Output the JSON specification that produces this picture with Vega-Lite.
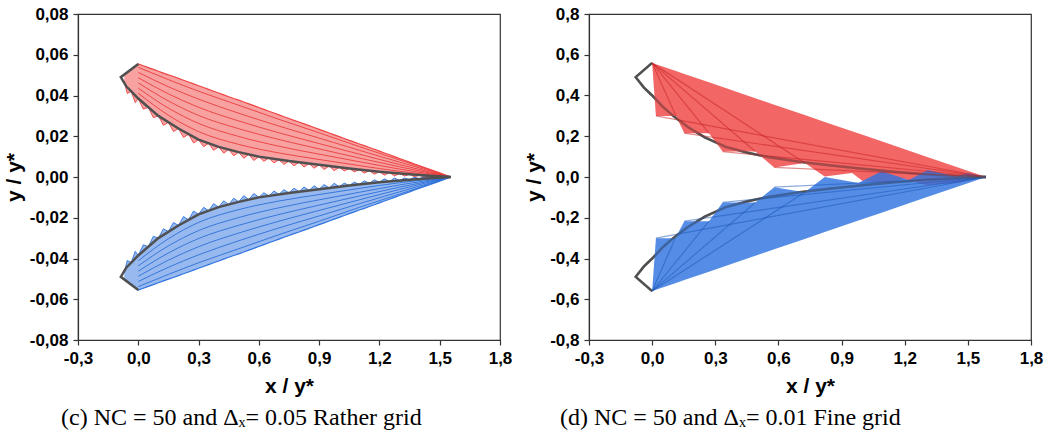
{
  "$schema": "https://vega.github.io/schema/vega-lite/v6.json",
  "background": "white",
  "padding": {"left": 2, "top": 4, "right": 5, "bottom": 0},
  "spacing": 10,
  "config": {
    "view": {"stroke": "#333", "strokeWidth": 1.2},
    "axis": {"labelFont": "Liberation Sans", "labelFontWeight": "bold", "labelFontSize": 17, "labelColor": "#000", "titleFont": "Liberation Sans", "titleFontWeight": "bold", "titleFontSize": 21, "titleColor": "#000", "grid": false, "domainColor": "#333", "tickColor": "#333", "domainWidth": 1.2, "tickWidth": 1.2, "labelOverlap": false, "labelFlush": false},
    "title": {"font": "Liberation Serif", "fontSize": 24, "fontWeight": "normal", "color": "#000"}
  },
  "datasets": {
    "c": [
      {"x": -0.07, "rt": 0.0503, "rb": 0.0470, "bt": -0.0470, "bb": -0.0503},
      {"x": -0.055, "rt": 0.0514, "rb": 0.0410, "bt": -0.0410, "bb": -0.0514},
      {"x": -0.035, "rt": 0.0529, "rb": 0.0420, "bt": -0.0420, "bb": -0.0529},
      {"x": -0.015, "rt": 0.0544, "rb": 0.0365, "bt": -0.0365, "bb": -0.0544},
      {"x": 0.0, "rt": 0.0555, "rb": 0.0385, "bt": -0.0385, "bb": -0.0555},
      {"x": 0.025, "rt": 0.0546, "rb": 0.0333, "bt": -0.0333, "bb": -0.0546},
      {"x": 0.05, "rt": 0.0537, "rb": 0.0342, "bt": -0.0342, "bb": -0.0537},
      {"x": 0.075, "rt": 0.0528, "rb": 0.0291, "bt": -0.0291, "bb": -0.0528},
      {"x": 0.1, "rt": 0.0519, "rb": 0.0300, "bt": -0.0300, "bb": -0.0519},
      {"x": 0.125, "rt": 0.0510, "rb": 0.0254, "bt": -0.0254, "bb": -0.0510},
      {"x": 0.15, "rt": 0.0501, "rb": 0.0268, "bt": -0.0268, "bb": -0.0501},
      {"x": 0.175, "rt": 0.0493, "rb": 0.0223, "bt": -0.0223, "bb": -0.0493},
      {"x": 0.2, "rt": 0.0484, "rb": 0.0238, "bt": -0.0238, "bb": -0.0484},
      {"x": 0.225, "rt": 0.0475, "rb": 0.0194, "bt": -0.0194, "bb": -0.0475},
      {"x": 0.25, "rt": 0.0466, "rb": 0.0210, "bt": -0.0210, "bb": -0.0466},
      {"x": 0.275, "rt": 0.0457, "rb": 0.0167, "bt": -0.0167, "bb": -0.0457},
      {"x": 0.3, "rt": 0.0448, "rb": 0.0183, "bt": -0.0183, "bb": -0.0448},
      {"x": 0.325, "rt": 0.0439, "rb": 0.0149, "bt": -0.0149, "bb": -0.0439},
      {"x": 0.35, "rt": 0.0430, "rb": 0.0165, "bt": -0.0165, "bb": -0.0430},
      {"x": 0.375, "rt": 0.0421, "rb": 0.0131, "bt": -0.0131, "bb": -0.0421},
      {"x": 0.4, "rt": 0.0412, "rb": 0.0148, "bt": -0.0148, "bb": -0.0412},
      {"x": 0.425, "rt": 0.0403, "rb": 0.0117, "bt": -0.0117, "bb": -0.0403},
      {"x": 0.45, "rt": 0.0394, "rb": 0.0135, "bt": -0.0135, "bb": -0.0394},
      {"x": 0.475, "rt": 0.0385, "rb": 0.0104, "bt": -0.0104, "bb": -0.0385},
      {"x": 0.5, "rt": 0.0377, "rb": 0.0122, "bt": -0.0122, "bb": -0.0377},
      {"x": 0.525, "rt": 0.0368, "rb": 0.0092, "bt": -0.0092, "bb": -0.0368},
      {"x": 0.55, "rt": 0.0359, "rb": 0.0111, "bt": -0.0111, "bb": -0.0359},
      {"x": 0.575, "rt": 0.0350, "rb": 0.0081, "bt": -0.0081, "bb": -0.0350},
      {"x": 0.6, "rt": 0.0341, "rb": 0.0100, "bt": -0.0100, "bb": -0.0341},
      {"x": 0.625, "rt": 0.0332, "rb": 0.0077, "bt": -0.0077, "bb": -0.0332},
      {"x": 0.65, "rt": 0.0323, "rb": 0.0093, "bt": -0.0093, "bb": -0.0323},
      {"x": 0.675, "rt": 0.0314, "rb": 0.0069, "bt": -0.0069, "bb": -0.0314},
      {"x": 0.7, "rt": 0.0305, "rb": 0.0085, "bt": -0.0085, "bb": -0.0305},
      {"x": 0.725, "rt": 0.0296, "rb": 0.0062, "bt": -0.0062, "bb": -0.0296},
      {"x": 0.75, "rt": 0.0287, "rb": 0.0078, "bt": -0.0078, "bb": -0.0287},
      {"x": 0.775, "rt": 0.0278, "rb": 0.0055, "bt": -0.0055, "bb": -0.0278},
      {"x": 0.8, "rt": 0.0270, "rb": 0.0072, "bt": -0.0072, "bb": -0.0270},
      {"x": 0.825, "rt": 0.0261, "rb": 0.0049, "bt": -0.0049, "bb": -0.0261},
      {"x": 0.85, "rt": 0.0252, "rb": 0.0066, "bt": -0.0066, "bb": -0.0252},
      {"x": 0.875, "rt": 0.0243, "rb": 0.0043, "bt": -0.0043, "bb": -0.0243},
      {"x": 0.9, "rt": 0.0234, "rb": 0.0060, "bt": -0.0060, "bb": -0.0234},
      {"x": 0.925, "rt": 0.0225, "rb": 0.0037, "bt": -0.0037, "bb": -0.0225},
      {"x": 0.95, "rt": 0.0216, "rb": 0.0054, "bt": -0.0054, "bb": -0.0216},
      {"x": 0.975, "rt": 0.0207, "rb": 0.0031, "bt": -0.0031, "bb": -0.0207},
      {"x": 1.0, "rt": 0.0198, "rb": 0.0048, "bt": -0.0048, "bb": -0.0198},
      {"x": 1.025, "rt": 0.0189, "rb": 0.0030, "bt": -0.0030, "bb": -0.0189},
      {"x": 1.05, "rt": 0.0180, "rb": 0.0042, "bt": -0.0042, "bb": -0.0180},
      {"x": 1.075, "rt": 0.0171, "rb": 0.0025, "bt": -0.0025, "bb": -0.0171},
      {"x": 1.1, "rt": 0.0162, "rb": 0.0037, "bt": -0.0037, "bb": -0.0162},
      {"x": 1.125, "rt": 0.0154, "rb": 0.0019, "bt": -0.0019, "bb": -0.0154},
      {"x": 1.15, "rt": 0.0145, "rb": 0.0031, "bt": -0.0031, "bb": -0.0145},
      {"x": 1.175, "rt": 0.0136, "rb": 0.0014, "bt": -0.0014, "bb": -0.0136},
      {"x": 1.2, "rt": 0.0127, "rb": 0.0026, "bt": -0.0026, "bb": -0.0127},
      {"x": 1.225, "rt": 0.0118, "rb": 0.0009, "bt": -0.0009, "bb": -0.0118},
      {"x": 1.25, "rt": 0.0109, "rb": 0.0022, "bt": -0.0022, "bb": -0.0109},
      {"x": 1.275, "rt": 0.0100, "rb": 0.0005, "bt": -0.0005, "bb": -0.0100},
      {"x": 1.3, "rt": 0.0091, "rb": 0.0017, "bt": -0.0017, "bb": -0.0091},
      {"x": 1.325, "rt": 0.0082, "rb": 0.0005, "bt": -0.0005, "bb": -0.0082},
      {"x": 1.35, "rt": 0.0073, "rb": 0.0013, "bt": -0.0013, "bb": -0.0073},
      {"x": 1.375, "rt": 0.0064, "rb": 0.0001, "bt": -0.0001, "bb": -0.0064},
      {"x": 1.4, "rt": 0.0055, "rb": 0.0009, "bt": -0.0009, "bb": -0.0055},
      {"x": 1.425, "rt": 0.0046, "rb": -0.0003, "bt": 0.0003, "bb": -0.0046},
      {"x": 1.45, "rt": 0.0038, "rb": 0.0006, "bt": -0.0006, "bb": -0.0038},
      {"x": 1.475, "rt": 0.0029, "rb": -0.0005, "bt": 0.0005, "bb": -0.0029},
      {"x": 1.5, "rt": 0.0020, "rb": 0.0003, "bt": -0.0003, "bb": -0.0020},
      {"x": 1.525, "rt": 0.0011, "rb": -0.0005, "bt": 0.0005, "bb": -0.0011},
      {"x": 1.555, "rt": 0.0, "rb": 0.0, "bt": 0.0, "bb": 0.0}
    ],
    "cArc": [
      {"k": 1, "x": 0.0, "ry": 0.0411, "by": -0.0411}, {"k": 1, "x": 0.15, "ry": 0.0303, "by": -0.0303}, {"k": 1, "x": 0.3, "ry": 0.0223, "by": -0.0223}, {"k": 1, "x": 0.5, "ry": 0.0160, "by": -0.0160}, {"k": 1, "x": 0.7, "ry": 0.0118, "by": -0.0118}, {"k": 1, "x": 0.9, "ry": 0.0086, "by": -0.0086}, {"k": 1, "x": 1.1, "ry": 0.0056, "by": -0.0056}, {"k": 1, "x": 1.3, "ry": 0.0028, "by": -0.0028}, {"k": 1, "x": 1.555, "ry": 0.0, "by": 0.0},
      {"k": 2, "x": 0.0, "ry": 0.0436, "by": -0.0436}, {"k": 2, "x": 0.15, "ry": 0.0338, "by": -0.0338}, {"k": 2, "x": 0.3, "ry": 0.0263, "by": -0.0263}, {"k": 2, "x": 0.5, "ry": 0.0199, "by": -0.0199}, {"k": 2, "x": 0.7, "ry": 0.0151, "by": -0.0151}, {"k": 2, "x": 0.9, "ry": 0.0112, "by": -0.0112}, {"k": 2, "x": 1.1, "ry": 0.0075, "by": -0.0075}, {"k": 2, "x": 1.3, "ry": 0.0039, "by": -0.0039}, {"k": 2, "x": 1.555, "ry": 0.0, "by": 0.0},
      {"k": 3, "x": 0.0, "ry": 0.0462, "by": -0.0462}, {"k": 3, "x": 0.15, "ry": 0.0373, "by": -0.0373}, {"k": 3, "x": 0.3, "ry": 0.0302, "by": -0.0302}, {"k": 3, "x": 0.5, "ry": 0.0237, "by": -0.0237}, {"k": 3, "x": 0.7, "ry": 0.0184, "by": -0.0184}, {"k": 3, "x": 0.9, "ry": 0.0138, "by": -0.0138}, {"k": 3, "x": 1.1, "ry": 0.0093, "by": -0.0093}, {"k": 3, "x": 1.3, "ry": 0.0050, "by": -0.0050}, {"k": 3, "x": 1.555, "ry": 0.0, "by": 0.0},
      {"k": 4, "x": 0.0, "ry": 0.0487, "by": -0.0487}, {"k": 4, "x": 0.15, "ry": 0.0408, "by": -0.0408}, {"k": 4, "x": 0.3, "ry": 0.0342, "by": -0.0342}, {"k": 4, "x": 0.5, "ry": 0.0275, "by": -0.0275}, {"k": 4, "x": 0.7, "ry": 0.0217, "by": -0.0217}, {"k": 4, "x": 0.9, "ry": 0.0164, "by": -0.0164}, {"k": 4, "x": 1.1, "ry": 0.0112, "by": -0.0112}, {"k": 4, "x": 1.3, "ry": 0.0061, "by": -0.0061}, {"k": 4, "x": 1.555, "ry": 0.0, "by": 0.0},
      {"k": 5, "x": 0.0, "ry": 0.0513, "by": -0.0513}, {"k": 5, "x": 0.15, "ry": 0.0443, "by": -0.0443}, {"k": 5, "x": 0.3, "ry": 0.0382, "by": -0.0382}, {"k": 5, "x": 0.5, "ry": 0.0313, "by": -0.0313}, {"k": 5, "x": 0.7, "ry": 0.0250, "by": -0.0250}, {"k": 5, "x": 0.9, "ry": 0.0191, "by": -0.0191}, {"k": 5, "x": 1.1, "ry": 0.0131, "by": -0.0131}, {"k": 5, "x": 1.3, "ry": 0.0073, "by": -0.0073}, {"k": 5, "x": 1.555, "ry": 0.0, "by": 0.0},
      {"k": 6, "x": 0.0, "ry": 0.0538, "by": -0.0538}, {"k": 6, "x": 0.15, "ry": 0.0478, "by": -0.0478}, {"k": 6, "x": 0.3, "ry": 0.0421, "by": -0.0421}, {"k": 6, "x": 0.5, "ry": 0.0352, "by": -0.0352}, {"k": 6, "x": 0.7, "ry": 0.0283, "by": -0.0283}, {"k": 6, "x": 0.9, "ry": 0.0217, "by": -0.0217}, {"k": 6, "x": 1.1, "ry": 0.0149, "by": -0.0149}, {"k": 6, "x": 1.3, "ry": 0.0084, "by": -0.0084}, {"k": 6, "x": 1.555, "ry": 0.0, "by": 0.0}
    ],
    "cGray": [
      {"s": "r", "i": 0, "x": 0.0, "y": 0.0555}, {"s": "r", "i": 1, "x": -0.087, "y": 0.049},
      {"s": "r", "i": 2, "x": -0.06, "y": 0.0445}, {"s": "r", "i": 3, "x": -0.03, "y": 0.0415},
      {"s": "r", "i": 4, "x": 0.0, "y": 0.0385}, {"s": "r", "i": 5, "x": 0.1, "y": 0.0300},
      {"s": "r", "i": 6, "x": 0.2, "y": 0.0238}, {"s": "r", "i": 7, "x": 0.3, "y": 0.0183},
      {"s": "r", "i": 8, "x": 0.4, "y": 0.0148}, {"s": "r", "i": 9, "x": 0.5, "y": 0.0122},
      {"s": "r", "i": 10, "x": 0.6, "y": 0.0100}, {"s": "r", "i": 11, "x": 0.75, "y": 0.0078},
      {"s": "r", "i": 12, "x": 0.9, "y": 0.0060}, {"s": "r", "i": 13, "x": 1.05, "y": 0.0042},
      {"s": "r", "i": 14, "x": 1.2, "y": 0.0026}, {"s": "r", "i": 15, "x": 1.35, "y": 0.0013},
      {"s": "r", "i": 16, "x": 1.45, "y": 0.0006}, {"s": "r", "i": 17, "x": 1.555, "y": 0.0},
      {"s": "b", "i": 0, "x": 0.0, "y": -0.0555}, {"s": "b", "i": 1, "x": -0.087, "y": -0.049},
      {"s": "b", "i": 2, "x": -0.06, "y": -0.0445}, {"s": "b", "i": 3, "x": -0.03, "y": -0.0415},
      {"s": "b", "i": 4, "x": 0.0, "y": -0.0385}, {"s": "b", "i": 5, "x": 0.1, "y": -0.0300},
      {"s": "b", "i": 6, "x": 0.2, "y": -0.0238}, {"s": "b", "i": 7, "x": 0.3, "y": -0.0183},
      {"s": "b", "i": 8, "x": 0.4, "y": -0.0148}, {"s": "b", "i": 9, "x": 0.5, "y": -0.0122},
      {"s": "b", "i": 10, "x": 0.6, "y": -0.0100}, {"s": "b", "i": 11, "x": 0.75, "y": -0.0078},
      {"s": "b", "i": 12, "x": 0.9, "y": -0.0060}, {"s": "b", "i": 13, "x": 1.05, "y": -0.0042},
      {"s": "b", "i": 14, "x": 1.2, "y": -0.0026}, {"s": "b", "i": 15, "x": 1.35, "y": -0.0013},
      {"s": "b", "i": 16, "x": 1.45, "y": -0.0006}, {"s": "b", "i": 17, "x": 1.555, "y": 0.0}
    ],
    "dRed": [
      {"x": 0.0, "t": 0.56, "b": 0.56},
      {"x": 0.018, "t": 0.5536, "b": 0.30},
      {"x": 0.113, "t": 0.520, "b": 0.30},
      {"x": 0.153, "t": 0.506, "b": 0.215},
      {"x": 0.27, "t": 0.4647, "b": 0.215},
      {"x": 0.335, "t": 0.4417, "b": 0.125},
      {"x": 0.49, "t": 0.387, "b": 0.125},
      {"x": 0.58, "t": 0.3552, "b": 0.047},
      {"x": 0.725, "t": 0.304, "b": 0.069},
      {"x": 0.82, "t": 0.2705, "b": 0.003},
      {"x": 0.95, "t": 0.2246, "b": 0.02},
      {"x": 1.0, "t": 0.2069, "b": -0.02},
      {"x": 1.1, "t": 0.1716, "b": -0.03},
      {"x": 1.2, "t": 0.1363, "b": -0.01},
      {"x": 1.3, "t": 0.101, "b": -0.04},
      {"x": 1.45, "t": 0.048, "b": -0.03},
      {"x": 1.586, "t": 0.0, "b": 0.0}
    ],
    "dBlue": [
      {"x": 0.0, "t": -0.56, "b": -0.56},
      {"x": 0.018, "t": -0.30, "b": -0.5536},
      {"x": 0.11, "t": -0.30, "b": -0.5212},
      {"x": 0.153, "t": -0.217, "b": -0.506},
      {"x": 0.27, "t": -0.217, "b": -0.4647},
      {"x": 0.335, "t": -0.125, "b": -0.4417},
      {"x": 0.49, "t": -0.125, "b": -0.387},
      {"x": 0.58, "t": -0.05, "b": -0.3552},
      {"x": 0.725, "t": -0.075, "b": -0.304},
      {"x": 0.82, "t": 0.0, "b": -0.2705},
      {"x": 0.98, "t": -0.03, "b": -0.214},
      {"x": 1.09, "t": 0.028, "b": -0.1751},
      {"x": 1.22, "t": -0.015, "b": -0.1292},
      {"x": 1.31, "t": 0.034, "b": -0.0974},
      {"x": 1.44, "t": 0.003, "b": -0.0515},
      {"x": 1.5, "t": 0.02, "b": -0.0304},
      {"x": 1.586, "t": 0.0, "b": 0.0}
    ],
    "dFan": [
      {"id": "r1", "c": "r", "x": 0.0, "y": 0.56}, {"id": "r1", "c": "r", "x": 0.113, "y": 0.30},
      {"id": "r2", "c": "r", "x": 0.0, "y": 0.56}, {"id": "r2", "c": "r", "x": 0.27, "y": 0.215},
      {"id": "r3", "c": "r", "x": 0.0, "y": 0.56}, {"id": "r3", "c": "r", "x": 0.49, "y": 0.125},
      {"id": "r4", "c": "r", "x": 0.0, "y": 0.56}, {"id": "r4", "c": "r", "x": 0.725, "y": 0.069},
      {"id": "r5", "c": "r", "x": 0.153, "y": 0.215}, {"id": "r5", "c": "r", "x": 1.586, "y": 0.0},
      {"id": "r6", "c": "r", "x": 0.335, "y": 0.125}, {"id": "r6", "c": "r", "x": 1.586, "y": 0.0},
      {"id": "r7", "c": "r", "x": 0.018, "y": 0.30}, {"id": "r7", "c": "r", "x": 1.586, "y": 0.0},
      {"id": "r8", "c": "r", "x": 0.58, "y": 0.047}, {"id": "r8", "c": "r", "x": 1.586, "y": 0.0},
      {"id": "b1", "c": "b", "x": 0.0, "y": -0.56}, {"id": "b1", "c": "b", "x": 0.11, "y": -0.30},
      {"id": "b2", "c": "b", "x": 0.0, "y": -0.56}, {"id": "b2", "c": "b", "x": 0.27, "y": -0.217},
      {"id": "b3", "c": "b", "x": 0.0, "y": -0.56}, {"id": "b3", "c": "b", "x": 0.49, "y": -0.125},
      {"id": "b4", "c": "b", "x": 0.0, "y": -0.56}, {"id": "b4", "c": "b", "x": 0.725, "y": -0.075},
      {"id": "b5", "c": "b", "x": 0.153, "y": -0.217}, {"id": "b5", "c": "b", "x": 1.586, "y": 0.0},
      {"id": "b6", "c": "b", "x": 0.335, "y": -0.125}, {"id": "b6", "c": "b", "x": 1.586, "y": 0.0},
      {"id": "b7", "c": "b", "x": 0.018, "y": -0.30}, {"id": "b7", "c": "b", "x": 1.586, "y": 0.0},
      {"id": "b8", "c": "b", "x": 0.58, "y": -0.05}, {"id": "b8", "c": "b", "x": 1.586, "y": 0.0}
    ],
    "dGray": [
      {"s": "r", "i": 0, "x": 0.0, "y": 0.56}, {"s": "r", "i": 1, "x": -0.078, "y": 0.49},
      {"s": "r", "i": 2, "x": -0.04, "y": 0.44}, {"s": "r", "i": 3, "x": 0.0, "y": 0.40},
      {"s": "r", "i": 4, "x": 0.05, "y": 0.345}, {"s": "r", "i": 5, "x": 0.1, "y": 0.30},
      {"s": "r", "i": 6, "x": 0.17, "y": 0.245}, {"s": "r", "i": 7, "x": 0.25, "y": 0.195},
      {"s": "r", "i": 8, "x": 0.35, "y": 0.148}, {"s": "r", "i": 9, "x": 0.45, "y": 0.12},
      {"s": "r", "i": 10, "x": 0.55, "y": 0.098}, {"s": "r", "i": 11, "x": 0.7, "y": 0.075},
      {"s": "r", "i": 12, "x": 0.85, "y": 0.057}, {"s": "r", "i": 13, "x": 1.0, "y": 0.04},
      {"s": "r", "i": 14, "x": 1.15, "y": 0.026}, {"s": "r", "i": 15, "x": 1.3, "y": 0.014},
      {"s": "r", "i": 16, "x": 1.45, "y": 0.005}, {"s": "r", "i": 17, "x": 1.586, "y": 0.0},
      {"s": "b", "i": 0, "x": 0.0, "y": -0.56}, {"s": "b", "i": 1, "x": -0.078, "y": -0.49},
      {"s": "b", "i": 2, "x": -0.04, "y": -0.44}, {"s": "b", "i": 3, "x": 0.0, "y": -0.40},
      {"s": "b", "i": 4, "x": 0.05, "y": -0.345}, {"s": "b", "i": 5, "x": 0.1, "y": -0.30},
      {"s": "b", "i": 6, "x": 0.17, "y": -0.245}, {"s": "b", "i": 7, "x": 0.25, "y": -0.195},
      {"s": "b", "i": 8, "x": 0.35, "y": -0.148}, {"s": "b", "i": 9, "x": 0.45, "y": -0.12},
      {"s": "b", "i": 10, "x": 0.55, "y": -0.098}, {"s": "b", "i": 11, "x": 0.7, "y": -0.075},
      {"s": "b", "i": 12, "x": 0.85, "y": -0.057}, {"s": "b", "i": 13, "x": 1.0, "y": -0.04},
      {"s": "b", "i": 14, "x": 1.15, "y": -0.026}, {"s": "b", "i": 15, "x": 1.3, "y": -0.014},
      {"s": "b", "i": 16, "x": 1.45, "y": -0.005}, {"s": "b", "i": 17, "x": 1.586, "y": 0.0}
    ]
  },
  "hconcat": [
    {
      "width": 422,
      "height": 326,
      "title": {"text": "(c) NC = 50 and Δₓ= 0.05 Rather grid", "orient": "bottom", "anchor": "start", "frame": "group", "dx": -17, "offset": 10},
      "layer": [
        {
          "data": {"name": "c"},
          "mark": {"type": "area", "color": "#ef4444", "opacity": 0.5},
          "encoding": {
            "x": {"field": "x", "type": "quantitative", "title": "x / y*", "scale": {"domain": [-0.3, 1.8], "nice": false, "zero": false},
              "axis": {"values": [-0.3, -0.15, 0, 0.15, 0.3, 0.45, 0.6, 0.75, 0.9, 1.05, 1.2, 1.35, 1.5, 1.65, 1.8],
                "labelExpr": "abs(round(datum.value*100)) % 30 == 0 ? replace(replace(format(datum.value,'.1f'),'.',','),'\u2212','-') : ''",
                "tickSize": {"condition": {"test": "abs(round(datum.value*100)) % 30 != 0", "value": 3}, "value": 5},
                "labelPadding": 5, "titlePadding": 9}},
            "y": {"field": "rt", "type": "quantitative", "title": "y / y*", "scale": {"domain": [-0.08, 0.08], "nice": false, "zero": false},
              "axis": {"values": [-0.08, -0.07, -0.06, -0.05, -0.04, -0.03, -0.02, -0.01, 0, 0.01, 0.02, 0.03, 0.04, 0.05, 0.06, 0.07, 0.08],
                "labelExpr": "abs(round(datum.value*100)) % 2 == 0 ? replace(replace(format(datum.value,'.2f'),'.',','),'\u2212','-') : ''",
                "tickSize": {"condition": {"test": "abs(round(datum.value*100)) % 2 != 0", "value": 3}, "value": 5},
                "labelPadding": 5, "titlePadding": 5}},
            "y2": {"field": "rb"}
          }
        },
        {
          "data": {"name": "c"},
          "mark": {"type": "area", "color": "#2f74e0", "opacity": 0.5},
          "encoding": {
            "x": {"field": "x", "type": "quantitative", "title": "x / y*"},
            "y": {"field": "bb", "type": "quantitative", "title": "y / y*"},
            "y2": {"field": "bt"}
          }
        },
        {
          "data": {"name": "cArc"},
          "mark": {"type": "line", "color": "#e83030", "strokeWidth": 0.8, "interpolate": "monotone"},
          "encoding": {"x": {"field": "x", "type": "quantitative", "title": "x / y*"}, "y": {"field": "ry", "type": "quantitative", "title": "y / y*"}, "detail": {"field": "k"}}
        },
        {
          "data": {"name": "cArc"},
          "mark": {"type": "line", "color": "#2066d4", "strokeWidth": 0.8, "interpolate": "monotone"},
          "encoding": {"x": {"field": "x", "type": "quantitative", "title": "x / y*"}, "y": {"field": "by", "type": "quantitative", "title": "y / y*"}, "detail": {"field": "k"}}
        },
        {
          "data": {"name": "c"},
          "mark": {"type": "line", "color": "#ef4444", "strokeWidth": 0.9},
          "encoding": {"x": {"field": "x", "type": "quantitative", "title": "x / y*"}, "y": {"field": "rb", "type": "quantitative", "title": "y / y*"}}
        },
        {
          "data": {"name": "c"},
          "mark": {"type": "line", "color": "#ef4444", "strokeWidth": 1.2},
          "encoding": {"x": {"field": "x", "type": "quantitative", "title": "x / y*"}, "y": {"field": "rt", "type": "quantitative", "title": "y / y*"}}
        },
        {
          "data": {"name": "c"},
          "mark": {"type": "line", "color": "#2f74e0", "strokeWidth": 0.9},
          "encoding": {"x": {"field": "x", "type": "quantitative", "title": "x / y*"}, "y": {"field": "bt", "type": "quantitative", "title": "y / y*"}}
        },
        {
          "data": {"name": "c"},
          "mark": {"type": "line", "color": "#2f74e0", "strokeWidth": 1.2},
          "encoding": {"x": {"field": "x", "type": "quantitative", "title": "x / y*"}, "y": {"field": "bb", "type": "quantitative", "title": "y / y*"}}
        },
        {
          "data": {"name": "cGray"},
          "mark": {"type": "line", "color": "#505050", "strokeWidth": 2.5},
          "encoding": {
            "x": {"field": "x", "type": "quantitative", "title": "x / y*"},
            "y": {"field": "y", "type": "quantitative", "title": "y / y*"},
            "detail": {"field": "s"},
            "order": {"field": "i", "type": "quantitative"}
          }
        }
      ]
    },
    {
      "width": 442,
      "height": 326,
      "title": {"text": "(d) NC = 50 and Δₓ= 0.01 Fine grid", "orient": "bottom", "anchor": "start", "frame": "group", "dx": -29, "offset": 10},
      "layer": [
        {
          "data": {"name": "dGray"},
          "mark": {"type": "line", "color": "#505050", "strokeWidth": 2.5},
          "encoding": {
            "x": {"field": "x", "type": "quantitative", "title": "x / y*", "scale": {"domain": [-0.3, 1.8], "nice": false, "zero": false},
              "axis": {"values": [-0.3, -0.15, 0, 0.15, 0.3, 0.45, 0.6, 0.75, 0.9, 1.05, 1.2, 1.35, 1.5, 1.65, 1.8],
                "labelExpr": "abs(round(datum.value*100)) % 30 == 0 ? replace(replace(format(datum.value,'.1f'),'.',','),'\u2212','-') : ''",
                "tickSize": {"condition": {"test": "abs(round(datum.value*100)) % 30 != 0", "value": 3}, "value": 5},
                "labelPadding": 5, "titlePadding": 9}},
            "y": {"field": "y", "type": "quantitative", "title": "y / y*", "scale": {"domain": [-0.8, 0.8], "nice": false, "zero": false},
              "axis": {"values": [-0.8, -0.7, -0.6, -0.5, -0.4, -0.3, -0.2, -0.1, 0, 0.1, 0.2, 0.3, 0.4, 0.5, 0.6, 0.7, 0.8],
                "labelExpr": "abs(round(datum.value*10)) % 2 == 0 ? replace(replace(format(datum.value,'.1f'),'.',','),'\u2212','-') : ''",
                "tickSize": {"condition": {"test": "abs(round(datum.value*10)) % 2 != 0", "value": 3}, "value": 5},
                "labelPadding": 5, "titlePadding": 5}},
            "detail": {"field": "s"},
            "order": {"field": "i", "type": "quantitative"}
          }
        },
        {
          "data": {"name": "dRed"},
          "mark": {"type": "area", "color": "#ef4444", "opacity": 0.82},
          "encoding": {
            "x": {"field": "x", "type": "quantitative", "title": "x / y*"},
            "y": {"field": "t", "type": "quantitative", "title": "y / y*"},
            "y2": {"field": "b"}
          }
        },
        {
          "data": {"name": "dBlue"},
          "mark": {"type": "area", "color": "#2f74e0", "opacity": 0.82},
          "encoding": {
            "x": {"field": "x", "type": "quantitative", "title": "x / y*"},
            "y": {"field": "b", "type": "quantitative", "title": "y / y*"},
            "y2": {"field": "t"}
          }
        },
        {
          "data": {"name": "dFan"},
          "mark": {"type": "line", "strokeWidth": 1.2, "opacity": 0.5},
          "encoding": {
            "x": {"field": "x", "type": "quantitative", "title": "x / y*"},
            "y": {"field": "y", "type": "quantitative", "title": "y / y*"},
            "detail": {"field": "id"},
            "color": {"field": "c", "type": "nominal", "scale": {"domain": ["r", "b"], "range": ["#c81e1e", "#1a56b8"]}, "legend": null}
          }
        },
        {
          "data": {"name": "dGray"},
          "mark": {"type": "line", "color": "#505050", "strokeWidth": 2.5, "opacity": 0.35},
          "encoding": {
            "x": {"field": "x", "type": "quantitative", "title": "x / y*"},
            "y": {"field": "y", "type": "quantitative", "title": "y / y*"},
            "detail": {"field": "s"},
            "order": {"field": "i", "type": "quantitative"}
          }
        }
      ]
    }
  ]
}
